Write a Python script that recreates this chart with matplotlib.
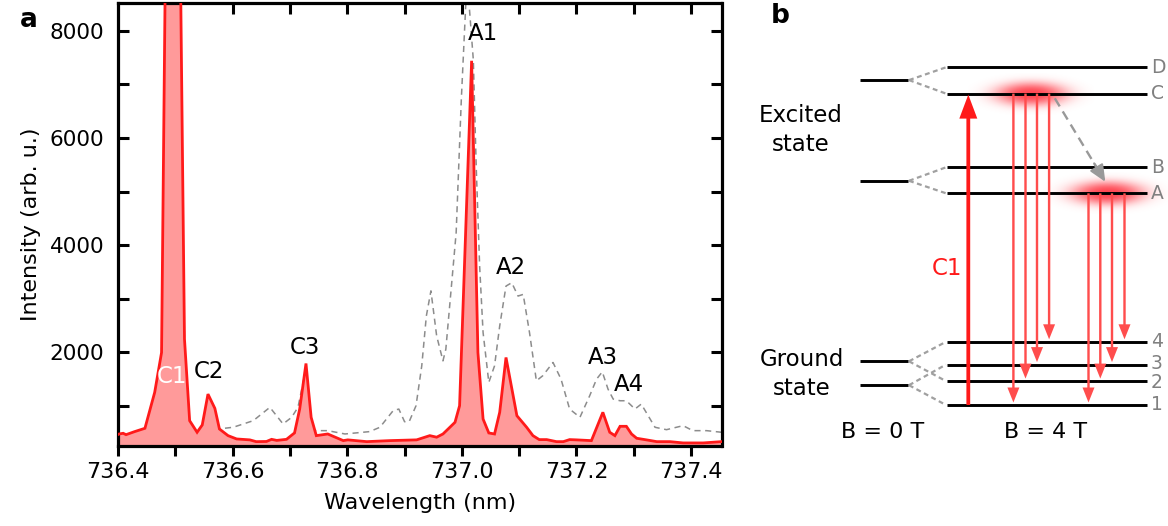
import numpy as np
import matplotlib
matplotlib.use("Agg")
import matplotlib.pyplot as plt

plt.rcParams['font.family'] = ['DejaVu Sans']

# ---------------- Panel a data ----------------
wl_red = [736.400, 736.402, 736.409, 736.414, 736.429, 736.447, 736.464, 736.476, 736.488,
          736.503, 736.516, 736.525, 736.538, 736.547, 736.557, 736.569, 736.577, 736.592,
          736.607, 736.630, 736.641, 736.659, 736.668, 736.677, 736.694, 736.708, 736.717,
          736.728, 736.737, 736.746, 736.766, 736.793, 736.801, 736.834, 736.874, 736.921,
          736.944, 736.956, 736.967, 736.976, 736.988, 736.996, 737.017, 737.028, 737.037,
          737.047, 737.057, 737.066, 737.077, 737.096, 737.113, 737.124, 737.135, 737.148,
          737.165, 737.177, 737.188, 737.200, 737.226, 737.246, 737.258, 737.267, 737.276,
          737.287, 737.296, 737.305, 737.322, 737.340, 737.363, 737.386, 737.421, 737.453]
int_red = [470, 480, 493, 467, 524, 586, 1256, 2000, 15000,
           15000, 2250, 728, 512, 648, 1224, 958, 573, 449,
           387, 370, 337, 340, 380, 360, 380, 500, 945,
           1795, 791, 449, 480, 356, 370, 337, 356, 370,
           449, 420, 480, 573, 698, 1007, 7442, 2000, 759,
           499, 480, 884, 1907, 821, 605, 449, 375, 375,
           337, 337, 375, 370, 356, 884, 512, 449, 623,
           623, 480, 400, 370, 337, 337, 313, 313, 337]

wl_grey = [736.400, 736.430, 736.450, 736.465, 736.476, 736.488, 736.503, 736.516, 736.525,
           736.538, 736.547, 736.557, 736.569, 736.575, 736.601, 736.636, 736.665, 736.688,
           736.703, 736.714, 736.728, 736.737, 736.743, 736.766, 736.796, 736.839, 736.857,
           736.880, 736.890, 736.900, 736.908, 736.920, 736.930, 736.938, 736.946, 736.956,
           736.967, 736.972, 736.990, 736.999, 737.009, 737.020, 737.025, 737.031, 737.037,
           737.047, 737.057, 737.066, 737.077, 737.087, 737.098, 737.107, 737.118, 737.130,
           737.141, 737.159, 737.173, 737.188, 737.206, 737.223, 737.235, 737.245, 737.255,
           737.264, 737.276, 737.287, 737.302, 737.313, 737.325, 737.337, 737.357, 737.386,
           737.403, 737.427, 737.453]
int_grey = [450, 500, 560, 1200, 1900, 13000, 13500, 2100, 700,
            500, 620, 1150, 900, 573, 605, 728, 977, 667,
            791, 977, 1700, 760, 542, 542, 480, 524, 605,
            914, 945, 709, 709, 1007, 1751, 2681, 3150, 2309,
            1844, 2061, 4232, 6712, 9000, 7455, 5471, 3611, 2372,
            1442, 1751, 2495, 3239, 3302, 3053, 3084, 2372, 1472,
            1565, 1814, 1503, 945, 791, 1193, 1503, 1639, 1317,
            1131, 1100, 1100, 945, 1038, 821, 605, 560, 635,
            542, 542, 512]

peak_labels = ['C1', 'C2', 'C3', 'A1', 'A2', 'A3', 'A4']
peak_label_x = [736.494, 736.558, 736.726, 737.036, 737.085, 737.246, 737.292]
peak_label_y = [1560, 1650, 2100, 7960, 3590, 1910, 1410]

x_lim = (736.4, 737.453)
y_lim = (265, 8520)

# ---------------- Panel b data (diagram units = figure pixels) ----------------
levels_0T_y = [80.1, 180.8, 361.3, 385.2]
levels_4T_names = ['D', 'C', 'B', 'A', '4', '3', '2', '1']
levels_4T_y = [67.3, 93.6, 167.3, 193.3, 341.8, 364.6, 381.1, 405.0]
# splitting connectors: 0T level index -> 4T level names
split_map = [(0, 'D'), (0, 'C'), (1, 'B'), (1, 'A'), (2, '4'), (2, '2'), (3, '3'), (3, '1')]
# emission lines: (start level, end level, x position)
emissions_C = [('C', '1', 1013.4), ('C', '2', 1025.5), ('C', '3', 1037.0), ('C', '4', 1049.1)]
emissions_A = [('A', '1', 1088.5), ('A', '2', 1100.3), ('A', '3', 1112.0), ('A', '4', 1124.5)]

RED = '#FF1A1A'
FILL = '#FF9A9A'
LRED = '#FF4D4D'
GREY = '#8C8C8C'

W, H = 1168, 526
fig = plt.figure(figsize=(W / 100, H / 100), dpi=100)

# ---------------- Panel a ----------------
ax = fig.add_axes([118 / W, 1 - 445.5 / H, (721.5 - 118) / W, (445.5 - 3) / H])
ax.plot(wl_grey, int_grey, color=GREY, lw=1.1, dashes=(4, 3), zorder=1)
ax.fill_between(wl_red, int_red, y_lim[0] - 100, color=FILL, lw=0, zorder=2)
ax.plot(wl_red, int_red, color=RED, lw=2.0, zorder=3, solid_joinstyle='miter')
ax.set_xlim(*x_lim)
ax.set_ylim(*y_lim)

for name, lx, ly in zip(peak_labels, peak_label_x, peak_label_y):
    ax.text(lx, ly, name, ha='center', va='center', fontsize=16.5,
            color='white' if name == 'C1' else 'black', zorder=5)

ax.set_xticks([736.4, 736.6, 736.8, 737.0, 737.2, 737.4])
ax.set_xticks(np.arange(736.5, 737.45, 0.2), minor=True)
ax.set_yticks([2000, 4000, 6000, 8000])
ax.set_yticks([1000, 3000, 5000, 7000], minor=True)
ax.tick_params(axis='x', which='both', direction='out', length=7, width=2.2, labelsize=16, pad=5, top=False)
ax.tick_params(axis='y', which='both', direction='in', length=8, width=2.2, labelsize=15.5, pad=10, right=True)
for s in ax.spines.values():
    s.set_linewidth(2.3)
# top ticks (inward, every 0.1)
secx = ax.secondary_xaxis('top')
secx.set_xticks(np.arange(736.5, 737.45, 0.1))
secx.tick_params(direction='in', length=8, width=2.2, labeltop=False)
secx.spines['top'].set_visible(False)
ax.set_xlabel('Wavelength (nm)', fontsize=16, labelpad=8)
ax.set_ylabel('Intensity (arb. u.)', fontsize=16, labelpad=6)
fig.text(20 / W, 1 - 20 / H, 'a', fontsize=19, fontweight='bold', ha='left', va='center')

# ---------------- Panel b ----------------
bx = fig.add_axes([740 / W, 0, (W - 740) / W, 1])
bx.set_xlim(740, W)
bx.set_ylim(H, 0)
bx.axis('off')

lvl = dict(zip(levels_4T_names, levels_4T_y))

# glows
def glow(xc, yc, w, h):
    gx = np.linspace(-1.5, 1.5, 300)
    gy = np.linspace(-1.5, 1.5, 120)
    X, Y = np.meshgrid(gx, gy)
    r2 = X ** 2 + Y ** 2
    a = np.exp(-1.6 * r2 ** 1.3) * 0.9
    img = np.zeros((120, 300, 4))
    img[..., 0] = 1.0
    img[..., 1] = 0.2
    img[..., 2] = 0.25
    img[..., 3] = np.clip(a, 0, 1)
    bx.imshow(img, extent=(xc - 1.5 * w, xc + 1.5 * w, yc + 1.5 * h, yc - 1.5 * h),
              aspect='auto', zorder=1, interpolation='bilinear')

glow(1031, lvl['C'], 42, 14)
glow(1107, lvl['A'], 43, 14)

# levels
for y0 in levels_0T_y:
    bx.plot([859.5, 908.3], [y0, y0], color='black', lw=2.1, solid_capstyle='butt', zorder=3)
for name, y4 in zip(levels_4T_names, levels_4T_y):
    bx.plot([947, 1147], [y4, y4], color='black', lw=2.1, solid_capstyle='butt', zorder=3)
    nudge = {'3': -1.0, '2': 1.5}.get(name, 0)
    bx.text(1151, y4 + nudge, name, color='#808080', fontsize=13.5, ha='left', va='center')
for i0, n4 in split_map:
    bx.plot([909, 946], [levels_0T_y[i0], lvl[n4]], color='#A0A0A0', lw=1.6,
            dashes=(2.2, 1.6), zorder=2)

# excitation arrow
bx.arrow(968.3, lvl['1'], 0, lvl['C'] + 1 - lvl['1'], width=3.8, head_width=18,
         head_length=24, length_includes_head=True, color=RED, lw=0, zorder=4)
bx.text(962, 268.7, 'C1', color=RED, fontsize=16.5, ha='right', va='center')

# emission arrows
for s, e, xa in emissions_C + emissions_A:
    bx.arrow(xa, lvl[s], 0, lvl[e] - 2.5 - lvl[s], width=2.4, head_width=12,
             head_length=15, length_includes_head=True, color=LRED, lw=0, zorder=4)

# relaxation arrow C -> A (dashed)
x0, y0, x1, y1 = 1054.8, 98.3, 1105.3, 181.8
bx.plot([x0, x0 + (x1 - x0) * 0.82], [y0, y0 + (y1 - y0) * 0.82], color='#999999', lw=1.7,
        dashes=(4, 2.5), zorder=4)
bx.annotate('', xy=(x1, y1), xytext=(x0 + (x1 - x0) * 0.78, y0 + (y1 - y0) * 0.78),
            arrowprops=dict(arrowstyle='-|>,head_length=1.0,head_width=0.45', color='#999999',
                            lw=1.6, shrinkA=0, shrinkB=0), zorder=4)

bx.text(801, 130, 'Excited\nstate', fontsize=16.5, ha='center', va='center', linespacing=1.35)
bx.text(802, 374, 'Ground\nstate', fontsize=16.5, ha='center', va='center', linespacing=1.35)
bx.text(883, 432, 'B = 0 T', fontsize=16, ha='center', va='center')
bx.text(1046, 432, 'B = 4 T', fontsize=16, ha='center', va='center')
fig.text(780 / W, 1 - 16 / H, 'b', fontsize=19, fontweight='bold', ha='center', va='center')

fig.savefig('out.png', dpi=100)
